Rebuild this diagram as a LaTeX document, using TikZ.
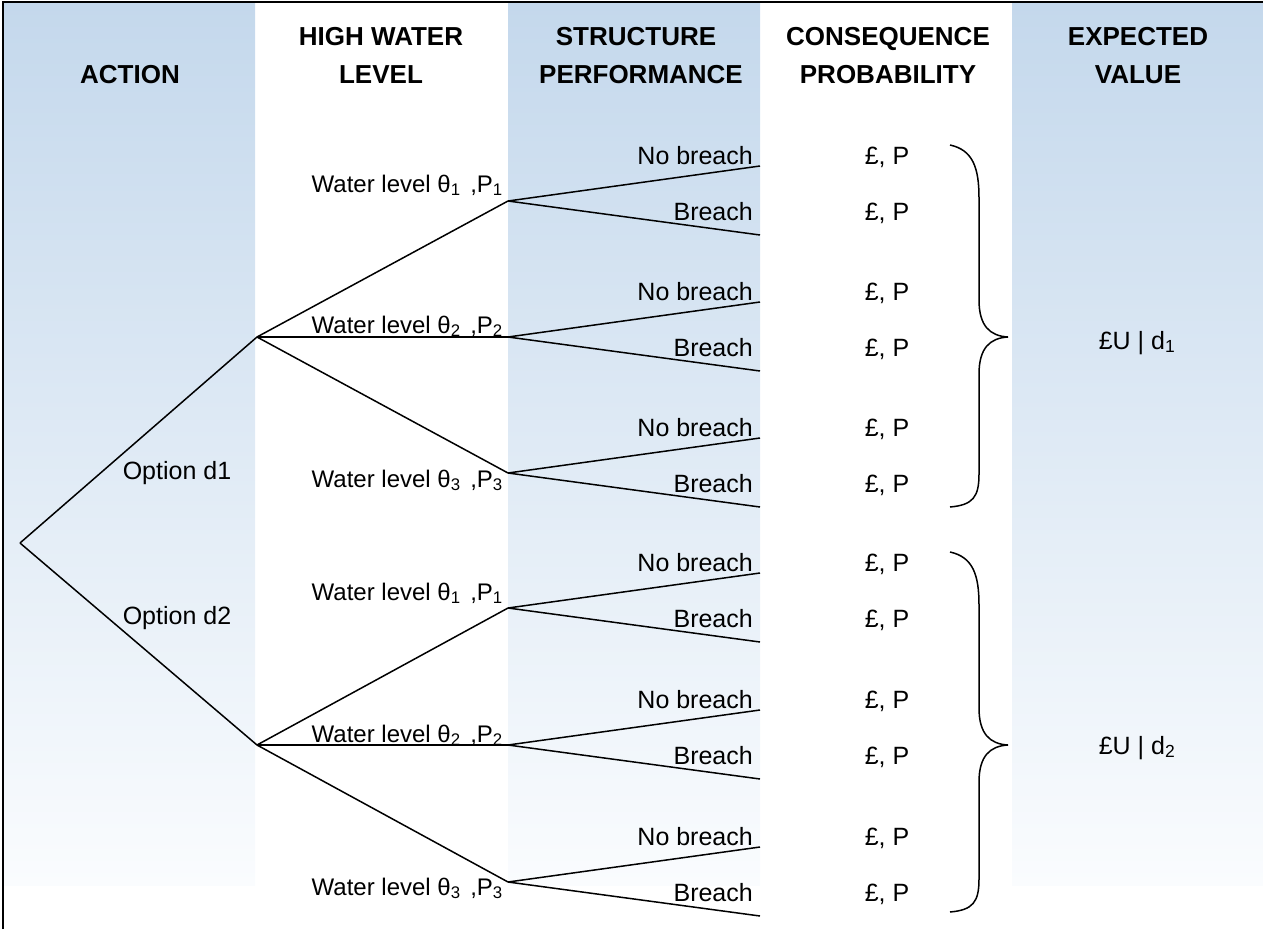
\documentclass[tikz,border=0pt]{standalone}
\usepackage{fontspec}
\setmainfont{Liberation Sans}
\begin{document}
\begin{tikzpicture}[x=1pt,y=-1pt,
  branch/.style={line width=1.5pt, black},
  frame/.style={line width=1.5pt, black},
  hdr/.style={font=\fontsize{26}{30}\selectfont\bfseries, anchor=base, inner sep=0pt},
  lbl/.style={font=\fontsize{25}{29}\selectfont, inner sep=0pt},
  wl/.style={lbl, font=\fontsize{24}{28}\selectfont, anchor=base east},
  outcome/.style={lbl, anchor=base east},
  money/.style={lbl, anchor=base},
  bracepath/.style={line width=1.5pt, black}]
\definecolor{colblue}{RGB}{196,216,236}
\definecolor{colpale}{RGB}{250,252,254}
\useasboundingbox (0,0) rectangle (1263,929);

% shaded columns
\foreach \xa/\xb in {3/255, 508/760, 1012/1263}
  \shade[top color=colblue, bottom color=colpale, draw=none] (\xa,2) rectangle (\xb,885);

% frame lines
\draw[frame] (3,929) -- (3,2) -- (1263,2);

% column headings
\node[hdr] (hAct) at (130,83) {ACTION};
\node[hdr] (hWl1) at (381,45) {HIGH WATER};
\node[hdr] (hWl2) at (381,83) {LEVEL};
\node[hdr] (hSp1) at (636,45) {STRUCTURE};
\node[hdr] (hSp2) at (641,83) {PERFORMANCE};
\node[hdr] (hCp1) at (888,45) {CONSEQUENCE};
\node[hdr] (hCp2) at (888,83) {PROBABILITY};
\node[hdr] (hEv1) at (1138,45) {EXPECTED};
\node[hdr] (hEv2) at (1138,83) {VALUE};

% decision points
\coordinate (r) at (20,543);
\coordinate (d1) at (257,337);
\coordinate (d2) at (257,745);
\draw[branch] (r) -- (d1);
\draw[branch] (r) -- (d2);
\node[lbl, anchor=base] (od1) at (177,479) {Option d1};
\node[lbl, anchor=base] (od2) at (177,624) {Option d2};

% water level branches: name/option/y/label offset/index
\foreach \n/\opt/\y/\off/\k in {a1/d1/201/-9/1, a2/d1/337/-4/2, a3/d1/473/14/3,
                                b1/d2/608/-8/1, b2/d2/745/-3/2, b3/d2/882/13/3} {
  \coordinate (\n) at (508,\y);
  \draw[branch] (\opt) -- (\n);
  \node[wl] (\n lab) at (503,\y+\off)
    {Water level θ\textsubscript{\k}\hspace{0.4em},P\textsubscript{\k}};
  % structure performance outcomes
  \coordinate (\n nb) at (760,\y-35);
  \coordinate (\n br) at (760,\y+34);
  \draw[branch] (\n) -- (\n nb);
  \draw[branch] (\n) -- (\n br);
  \node[outcome] (\n nbl) at (753,\y-37) {No breach};
  \node[outcome] (\n brl) at (753,\y+19) {Breach};
  \node[money] (\n nbm) at (887,\y-37) {£, P};
  \node[money] (\n brm) at (887,\y+19) {£, P};
}

% braces gathering the consequences of each option
\draw[bracepath] (950,145) .. controls (973,150) and (979,168) .. (979,198)
  -- (979,300) .. controls (979,326) and (990,336) .. (1008,337)
  .. controls (990,338) and (979,348) .. (979,374)
  -- (979,474) .. controls (979,497) and (973,505) .. (950,507);
\draw[bracepath] (950,552) .. controls (973,557) and (979,575) .. (979,605)
  -- (979,708) .. controls (979,734) and (990,744) .. (1008,745)
  .. controls (990,746) and (979,756) .. (979,782)
  -- (979,879) .. controls (979,902) and (973,910) .. (950,912);

% expected values
\node[money] (ev1) at (1137,349) {£U | d\textsubscript{1}};
\node[money] (ev2) at (1137,754) {£U | d\textsubscript{2}};
\end{tikzpicture}
\end{document}
